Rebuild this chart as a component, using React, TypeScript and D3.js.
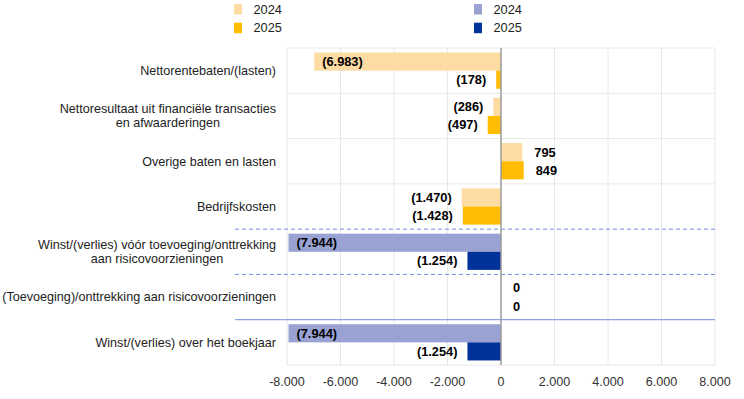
import React, { useEffect, useRef } from 'react';
import * as d3 from 'd3';

// categories (line breaks as in the original labels)
const categories = [
  'Nettorentebaten/(lasten)',
  'Nettoresultaat uit financiële transacties\nen afwaarderingen',
  'Overige baten en lasten',
  'Bedrijfskosten',
  'Winst/(verlies) vóór toevoeging/onttrekking\naan risicovoorzieningen',
  '(Toevoeging)/onttrekking aan risicovoorzieningen',
  'Winst/(verlies) over het boekjaar',
];
const values2024 = [-6983, -286, 795, -1470, -7944, 0, -7944];
const values2025 = [-178, -497, 849, -1428, -1254, 0, -1254];
// colour group per category
const groups = ['orange', 'orange', 'orange', 'orange', 'blue', 'orange', 'blue'];
const years = ['2024', '2025'];
const xTicks = [-8000, -6000, -4000, -2000, 0, 2000, 4000, 6000, 8000];

const palette: Record<string, string[]> = {
  orange: ['#FDDBA3', '#FFBC00'],
  blue: ['#99A2D3', '#003299'],
};

const W = 744;
const H = 399;
const margin = { top: 48, right: 29, bottom: 34, left: 287 };
const font = '"Liberation Sans", Arial, sans-serif';

const fmt = (v: number) => {
  const s = d3.format(',')(Math.abs(v)).replace(/,/g, '.');
  return v < 0 ? `(${s})` : s;
};

const App = () => {
  const ref = useRef<SVGSVGElement>(null);

  useEffect(() => {
    const svg = d3.select(ref.current);
    svg.selectAll('*').remove();

    const x = d3.scaleLinear().domain([-8000, 8000]).range([margin.left, W - margin.right]);
    const y0 = d3.scaleBand().domain(categories).range([margin.top, H - margin.bottom]).padding(0);
    const y1 = d3.scaleBand().domain(years).range([0, y0.bandwidth()]).paddingInner(0).paddingOuter(0.25);

    const top = margin.top;
    const bottom = H - margin.bottom;

    // vertical grid
    svg.append('g')
      .selectAll('line')
      .data(xTicks.filter((t) => t !== 0))
      .join('line')
      .attr('x1', (d) => x(d)).attr('x2', (d) => x(d))
      .attr('y1', top).attr('y2', bottom)
      .attr('stroke', '#E8E8E8');

    // horizontal separators
    const seps = categories.map((c) => y0(c)!).concat([bottom]);
    seps.forEach((yy, i) => {
      if (i === 4 || i === 5) {
        svg.append('line')
          .attr('x1', 235).attr('x2', x(8000))
          .attr('y1', yy).attr('y2', yy)
          .attr('stroke', '#6E8ED6').attr('stroke-dasharray', '4,3').attr('stroke-width', 1);
      } else if (i === 6) {
        svg.append('line')
          .attr('x1', 235).attr('x2', x(8000))
          .attr('y1', yy).attr('y2', yy)
          .attr('stroke', '#6E8ED6').attr('stroke-width', 1);
      } else {
        svg.append('line')
          .attr('x1', x(-8000)).attr('x2', x(8000))
          .attr('y1', yy).attr('y2', yy)
          .attr('stroke', '#E8E8E8');
      }
    });

    // bars
    categories.forEach((c, i) => {
      const vals = [values2024[i], values2025[i]];
      vals.forEach((v, j) => {
        const by = y0(c)! + y1(years[j])!;
        const bh = y1.bandwidth();
        svg.append('rect')
          .attr('x', Math.min(x(v), x(0)))
          .attr('width', Math.abs(x(v) - x(0)))
          .attr('y', by)
          .attr('height', bh)
          .attr('fill', palette[groups[i]][j]);

        let lx: number;
        let anchor: string;
        if (v < -5000) {
          lx = x(v) + 8;
          anchor = 'start';
        } else if (v < 0) {
          lx = x(v) - 10;
          anchor = 'end';
        } else {
          lx = x(v) + 12;
          anchor = 'start';
        }
        svg.append('text')
          .attr('x', lx)
          .attr('y', by + bh / 2)
          .attr('dy', '0.35em')
          .attr('text-anchor', anchor)
          .attr('font-family', font)
          .attr('font-size', 12.8)
          .attr('font-weight', 'bold')
          .attr('fill', '#000')
          .text(fmt(v));
      });
    });

    // zero line
    svg.append('line')
      .attr('x1', x(0)).attr('x2', x(0))
      .attr('y1', top).attr('y2', bottom)
      .attr('stroke', '#9A9A9A').attr('stroke-width', 1.5);

    // category labels (multi-line, centered lines, right aligned block)
    const labelRight = 276;
    categories.forEach((c) => {
      const lines = c.split('\n');
      const cy = y0(c)! + y0.bandwidth() / 2;
      const lh = 13.8;
      const g = svg.append('g');
      const texts = lines.map((ln, k) =>
        g.append('text')
          .attr('y', cy + (k - (lines.length - 1) / 2) * lh)
          .attr('dy', '0.35em')
          .attr('text-anchor', 'middle')
          .attr('font-family', font)
          .attr('font-size', 12.6)
          .attr('fill', '#222')
          .text(ln)
      );
      const maxW = d3.max(texts, (t) => (t.node() as SVGTextElement).getComputedTextLength()) || 0;
      texts.forEach((t) => t.attr('x', labelRight - maxW / 2));
    });

    // x axis labels
    svg.append('g')
      .selectAll('text')
      .data(xTicks)
      .join('text')
      .attr('x', (d) => x(d))
      .attr('y', 386)
      .attr('text-anchor', 'middle')
      .attr('font-family', font)
      .attr('font-size', 12.6)
      .attr('fill', '#333')
      .text((d) => d3.format(',')(d).replace(/,/g, '.').replace('−', '-'));

    // legend
    const legendX = [234, 474];
    ['orange', 'blue'].forEach((grp, gi) => {
      years.forEach((yr, j) => {
        const ly = 4 + j * 18.7;
        svg.append('rect')
          .attr('x', legendX[gi]).attr('y', ly)
          .attr('width', 8).attr('height', 10.5)
          .attr('fill', palette[grp][j]);
        svg.append('text')
          .attr('x', legendX[gi] + 19.5)
          .attr('y', ly + 9.5)
          .attr('font-family', font)
          .attr('font-size', 12.8)
          .attr('fill', '#222')
          .text(yr);
      });
    });
  }, []);

  return (
    <svg
      ref={ref}
      width={W}
      height={H}
      style={{ position: 'absolute', left: 0, top: 0, background: '#fff' }}
    />
  );
};

export default App;
